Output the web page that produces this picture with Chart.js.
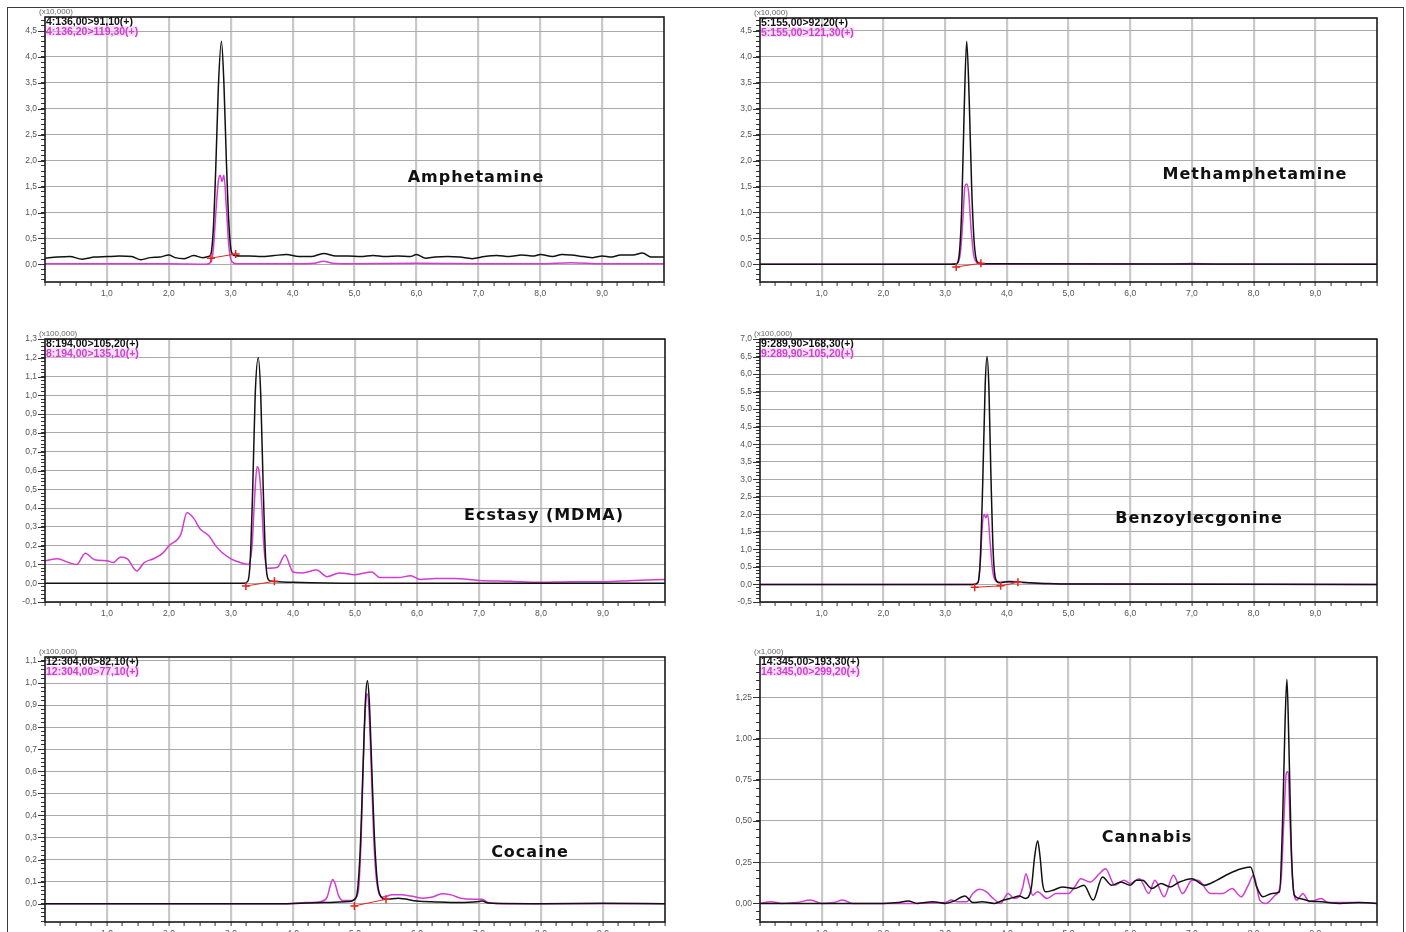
<!DOCTYPE html>
<html>
<head>
<title>MRM chromatograms</title>
<script src="https://cdn.jsdelivr.net/npm/chart.js"></script>
<style>
  body {
    margin: 0;
    width: 1406px;
    height: 932px;
    overflow: hidden;
    position: relative;
    background: #fff;
    font-family: "Liberation Sans", Arial, sans-serif;
  }
  .frame {
    position: absolute;
    left: 7px;
    top: 7px;
    width: 1395px;
    height: 940px;
    border: 1.5px solid #3a3a3a;
  }
  canvas { position: absolute; }
  .factor {
    position: absolute;
    font-size: 8px;
    line-height: 9px;
    color: #666;
  }
  .trace {
    position: absolute;
    font-size: 10.5px;
    font-weight: bold;
    line-height: 10px;
    white-space: nowrap;
  }
  .t1 { color: #111; }
  .t2 { color: #d23cd2; background: rgba(240, 190, 240, 0.45); }
  .drug {
    position: absolute;
    transform: translate(-50%, -50%);
    font-family: "DejaVu Sans", sans-serif;
    font-weight: bold;
    font-size: 16px;
    letter-spacing: 1px;
    color: #111;
    white-space: nowrap;
  }
</style>
</head>
<body>
<div class="frame"></div>

<script>
// x axis (retention time, min)
const xLabels = ['1,0', '2,0', '3,0', '4,0', '5,0', '6,0', '7,0', '8,0', '9,0'];

// Amphetamine (x10,000)
const amphYLabels = ['0,0', '0,5', '1,0', '1,5', '2,0', '2,5', '3,0', '3,5', '4,0', '4,5'];
const amphBlackT = [0, 0.2, 0.4, 0.6, 0.8, 1.0, 1.2, 1.4, 1.55, 1.7, 1.85, 2.0, 2.1, 2.25, 2.4, 2.55, 2.64, 2.68, 2.72, 2.76, 2.80, 2.85, 2.89, 2.93, 2.97, 3.01, 3.06, 3.15, 3.3, 3.5, 3.7, 3.9, 4.1, 4.3, 4.5, 4.7, 4.9, 5.1, 5.3, 5.5, 5.7, 5.9, 6.0, 6.15, 6.3, 6.5, 6.7, 6.9, 7.1, 7.3, 7.5, 7.7, 7.9, 8.0, 8.2, 8.35, 8.5, 8.7, 8.85, 9.0, 9.15, 9.3, 9.5, 9.65, 9.8, 10];
const amphBlackV = [0.12, 0.14, 0.15, 0.10, 0.14, 0.15, 0.16, 0.15, 0.09, 0.13, 0.14, 0.18, 0.13, 0.11, 0.17, 0.13, 0.15, 0.2, 0.7, 1.9, 3.4, 4.3, 3.5, 2.0, 0.8, 0.25, 0.17, 0.16, 0.16, 0.15, 0.17, 0.19, 0.15, 0.15, 0.21, 0.16, 0.16, 0.15, 0.17, 0.15, 0.16, 0.15, 0.19, 0.12, 0.14, 0.15, 0.14, 0.11, 0.15, 0.17, 0.15, 0.18, 0.16, 0.19, 0.15, 0.19, 0.18, 0.15, 0.13, 0.16, 0.14, 0.18, 0.18, 0.22, 0.14, 0.14];
const amphPinkT = [0, 1.0, 2.0, 2.6, 2.68, 2.72, 2.76, 2.80, 2.83, 2.86, 2.89, 2.93, 2.97, 3.02, 3.1, 4.0, 4.35, 4.5, 4.65, 5.0, 6.0, 7.0, 8.0, 8.5, 9.0, 10];
const amphPinkV = [0.01, 0.01, 0.01, 0.0, 0.05, 0.3, 1.0, 1.6, 1.72, 1.6, 1.72, 1.1, 0.35, 0.05, 0.01, 0.01, 0.02, 0.06, 0.02, 0.01, 0.02, 0.01, 0.01, 0.03, 0.01, 0.01];
const amphRedT = [2.68, 3.08];
const amphRedV = [0.12, 0.2];

// Methamphetamine (x10,000)
const methYLabels = ['0,0', '0,5', '1,0', '1,5', '2,0', '2,5', '3,0', '3,5', '4,0', '4,5'];
const methBlackT = [0, 3.1, 3.18, 3.23, 3.27, 3.31, 3.35, 3.39, 3.43, 3.47, 3.52, 3.6, 10];
const methBlackV = [0, 0, 0.01, 0.2, 1.1, 3.0, 4.3, 3.2, 1.5, 0.45, 0.05, 0.01, 0];
const methPinkT = [0, 3.1, 3.2, 3.25, 3.29, 3.32, 3.35, 3.38, 3.42, 3.46, 3.52, 3.6, 6.5, 7.0, 7.5, 10];
const methPinkV = [0, 0, 0.02, 0.25, 0.9, 1.5, 1.55, 1.4, 0.7, 0.2, 0.03, 0, 0, 0.015, 0, 0];
const methRedT = [3.18, 3.58];
const methRedV = [-0.05, 0.02];

// Ecstasy (MDMA) (x100,000)
const ecsYLabels = ['-0,1', '0,0', '0,1', '0,2', '0,3', '0,4', '0,5', '0,6', '0,7', '0,8', '0,9', '1,0', '1,1', '1,2', '1,3'];
const ecsBlackT = [0, 3.2, 3.27, 3.31, 3.35, 3.39, 3.44, 3.48, 3.52, 3.56, 3.6, 3.65, 4.0, 5.0, 10];
const ecsBlackV = [0, 0, 0.01, 0.12, 0.5, 1.0, 1.2, 1.0, 0.5, 0.12, 0.02, 0.01, 0.005, 0, 0];
const ecsPinkT = [0, 0.2, 0.38, 0.51, 0.65, 0.8, 1.0, 1.1, 1.22, 1.33, 1.48, 1.6, 1.75, 1.9, 2.0, 2.19, 2.29, 2.4, 2.5, 2.65, 2.75, 2.85, 3.0, 3.15, 3.28, 3.34, 3.38, 3.42, 3.45, 3.49, 3.53, 3.58, 3.75, 3.87, 4.0, 4.15, 4.38, 4.55, 4.75, 5.0, 5.27, 5.4, 5.7, 5.9, 6.05, 6.3, 6.6, 7.0, 7.5, 8.0, 8.5, 9.0, 9.5, 10];
const ecsPinkV = [0.12, 0.13, 0.11, 0.10, 0.16, 0.125, 0.12, 0.11, 0.14, 0.13, 0.065, 0.11, 0.13, 0.16, 0.2, 0.26, 0.375, 0.345, 0.29, 0.25, 0.2, 0.165, 0.13, 0.11, 0.1, 0.2, 0.45, 0.62, 0.6, 0.45, 0.2, 0.08, 0.085, 0.15, 0.06, 0.055, 0.07, 0.035, 0.055, 0.045, 0.06, 0.03, 0.03, 0.04, 0.02, 0.025, 0.025, 0.015, 0.01, 0.005, 0.008, 0.008, 0.015, 0.02];
const ecsRedT = [3.24, 3.7];
const ecsRedV = [-0.015, 0.01];

// Benzoylecgonine (x100,000)
const bzeYLabels = ['-0,5', '0,0', '0,5', '1,0', '1,5', '2,0', '2,5', '3,0', '3,5', '4,0', '4,5', '5,0', '5,5', '6,0', '6,5', '7,0'];
const bzeBlackT = [0, 3.45, 3.53, 3.57, 3.61, 3.65, 3.68, 3.71, 3.74, 3.78, 3.82, 3.88, 4.0, 4.2, 4.6, 5.0, 10];
const bzeBlackV = [0, 0, 0.05, 0.7, 2.9, 5.7, 6.5, 5.6, 3.3, 0.9, 0.15, 0.05, 0.08, 0.06, 0.03, 0.01, 0];
const bzePinkT = [0, 3.45, 3.53, 3.57, 3.6, 3.63, 3.66, 3.69, 3.73, 3.77, 3.82, 3.9, 4.05, 4.2, 4.5, 5.0, 10];
const bzePinkV = [0, 0, 0.05, 0.6, 1.6, 2.0, 1.9, 2.0, 1.2, 0.4, 0.1, 0.06, 0.09, 0.07, 0.03, 0.02, 0];
const bzeRedT = [3.48, 3.9, 4.18];
const bzeRedV = [-0.08, -0.04, 0.06];

// Cocaine (x100,000)
const cocYLabels = ['0,0', '0,1', '0,2', '0,3', '0,4', '0,5', '0,6', '0,7', '0,8', '0,9', '1,0', '1,1'];
const cocBlackT = [0, 3.9, 4.5, 4.9, 5.02, 5.08, 5.13, 5.17, 5.2, 5.23, 5.27, 5.31, 5.36, 5.42, 5.5, 5.7, 6.0, 6.3, 6.7, 7.0, 7.05, 7.15, 8.0, 9.0, 10];
const cocBlackV = [0, 0, 0.005, 0.01, 0.03, 0.22, 0.62, 0.93, 1.01, 0.92, 0.62, 0.32, 0.1, 0.03, 0.02, 0.025, 0.012, 0.008, 0.005, 0.01, 0.012, 0.003, 0, 0.002, 0];
const cocPinkT = [0, 3.9, 4.2, 4.45, 4.55, 4.6, 4.64, 4.68, 4.73, 4.8, 4.95, 5.05, 5.1, 5.14, 5.17, 5.2, 5.23, 5.27, 5.31, 5.36, 5.45, 5.6, 5.75, 5.9, 6.1, 6.25, 6.4, 6.55, 6.7, 6.9, 7.05, 7.15, 7.3, 8.0, 9.0, 10];
const cocPinkV = [0, 0, 0.005, 0.01, 0.03, 0.08, 0.11, 0.09, 0.04, 0.015, 0.015, 0.05, 0.3, 0.7, 0.9, 0.95, 0.85, 0.55, 0.25, 0.08, 0.03, 0.04, 0.04, 0.035, 0.025, 0.03, 0.045, 0.04, 0.025, 0.02, 0.02, 0.005, 0, 0, 0, 0];
const cocRedT = [4.99, 5.5];
const cocRedV = [-0.01, 0.02];

// Cannabis (x1,000)
const canYLabels = ['0,00', '0,25', '0,50', '0,75', '1,00', '1,25'];
const canBlackT = [0, 0.5, 1.0, 1.5, 2.0, 2.25, 2.4, 2.55, 2.8, 3.0, 3.15, 3.32, 3.45, 3.6, 3.8, 3.95, 4.1, 4.2, 4.3, 4.40, 4.45, 4.5, 4.54, 4.58, 4.63, 4.75, 4.9, 5.1, 5.25, 5.4, 5.55, 5.7, 5.85, 6.0, 6.1, 6.2, 6.35, 6.5, 6.65, 6.8, 7.0, 7.2, 7.4, 7.6, 7.8, 7.95, 8.05, 8.15, 8.3, 8.42, 8.47, 8.51, 8.54, 8.57, 8.61, 8.66, 8.75, 8.9, 9.1, 9.4, 9.7, 10];
const canBlackV = [0, 0, 0, 0, 0, 0.005, 0.015, 0, 0.01, 0, 0.015, 0.045, 0.005, 0.01, 0, 0.02, 0.035, 0.045, 0.03, 0.1, 0.28, 0.38, 0.28, 0.12, 0.07, 0.08, 0.1, 0.09, 0.11, 0.02, 0.16, 0.11, 0.13, 0.11, 0.14, 0.14, 0.09, 0.12, 0.1, 0.13, 0.15, 0.11, 0.14, 0.18, 0.21, 0.22, 0.1, 0.04, 0.06, 0.07, 0.5, 1.1, 1.36, 1.0, 0.35, 0.05, 0.03, 0.015, 0.01, 0, 0.005, 0];
const canPinkT = [0, 0.18, 0.35, 0.6, 0.82, 1.0, 1.2, 1.34, 1.5, 2.0, 2.5, 3.0, 3.1, 3.2, 3.35, 3.45, 3.56, 3.67, 3.78, 3.9, 4.02, 4.12, 4.2, 4.26, 4.31, 4.36, 4.42, 4.5, 4.65, 4.8, 5.0, 5.1, 5.2, 5.35, 5.5, 5.6, 5.75, 5.9, 6.0, 6.15, 6.3, 6.4, 6.55, 6.7, 6.85, 7.0, 7.1, 7.3, 7.5, 7.65, 7.8, 7.9, 8.0, 8.1, 8.2, 8.35, 8.44, 8.49, 8.53, 8.56, 8.59, 8.63, 8.7, 8.8, 8.9, 9.1, 9.2, 9.6, 10];
const canPinkV = [0, 0.01, 0, 0.005, 0.02, 0, 0.005, 0.02, 0, 0, 0, 0.005, 0.02, 0.01, 0.01, 0.06, 0.085, 0.07, 0.03, 0, 0.06, 0.03, 0.04, 0.1, 0.18, 0.12, 0.05, 0.07, 0.03, 0.06, 0.06, 0.1, 0.15, 0.13, 0.18, 0.21, 0.11, 0.14, 0.12, 0.15, 0.06, 0.14, 0.04, 0.17, 0.06, 0.14, 0.14, 0.06, 0.06, 0.09, 0.04, 0.1, 0.17, 0.02, 0, 0.05, 0.12, 0.5, 0.79, 0.8, 0.5, 0.15, 0.02, 0.06, 0.01, 0.03, 0.005, 0.005, 0];

const BLACK = '#111111';
const PINK = '#d23cd2';
const RED = '#e3261f';

function num(s) { return parseFloat(s.replace(',', '.')); }
function near(v, list) { return list.findIndex(m => Math.abs(m - v) < 1e-6); }

function stepTicks(min, max, step) {
    const out = [];
    const start = Math.ceil(min / step - 1e-9) * step;
    for (let v = start; v <= max + 1e-9; v += step) {
        out.push({ value: Math.round(v * 10000) / 10000 });
    }
    return out;
}

function pts(t, v) { return t.map((x, i) => ({ x: x, y: v[i] })); }

// plot frame + longer marks for the labelled y ticks
const framePlugin = {
    id: 'frame',
    afterDraw(chart) {
        const a = chart.chartArea;
        const ctx = chart.ctx;
        const y = chart.scales.y;
        ctx.save();
        ctx.strokeStyle = '#333';
        ctx.lineWidth = 1;
        (chart.$yMajor || []).forEach(v => {
            const py = Math.round(y.getPixelForValue(v)) + 0.5;
            ctx.beginPath();
            ctx.moveTo(a.left - 7, py);
            ctx.lineTo(a.left, py);
            ctx.stroke();
        });
        ctx.strokeStyle = '#1a1a1a';
        ctx.lineWidth = 1.6;
        ctx.strokeRect(a.left, a.top, a.right - a.left, a.bottom - a.top);
        ctx.restore();
    }
};

function addText(cls, text, left, top) {
    const d = document.createElement('div');
    d.className = cls;
    d.textContent = text;
    d.style.left = left + 'px';
    d.style.top = top + 'px';
    document.body.appendChild(d);
}

function makePanel(p) {
    const yW = 45, padT = 10, padR = 6, xH = 24;
    const c = document.createElement('canvas');
    c.width = p.area.r - p.area.l + yW + padR;
    c.height = p.area.b - p.area.t + padT + xH;
    c.style.left = (p.area.l - yW) + 'px';
    c.style.top = (p.area.t - padT) + 'px';
    document.body.appendChild(c);

    const xMajor = xLabels.map(num);
    const yMajor = p.yLabels.map(num);

    const datasets = [];
    if (p.red) {
        datasets.push({
            data: pts(p.red[0], p.red[1]),
            borderColor: RED,
            borderWidth: 1,
            pointStyle: 'cross',
            pointRadius: 4,
            pointBorderWidth: 1.5,
            pointBorderColor: RED,
            tension: 0
        });
    }
    datasets.push({
        data: pts(p.black[0], p.black[1]),
        borderColor: BLACK,
        borderWidth: 1.5,
        pointRadius: 0,
        cubicInterpolationMode: 'monotone'
    });
    datasets.push({
        data: pts(p.pink[0], p.pink[1]),
        borderColor: PINK,
        borderWidth: 1.5,
        pointRadius: 0,
        cubicInterpolationMode: 'monotone'
    });

    const chart = new Chart(c, {
        type: 'line',
        data: { datasets: datasets },
        options: {
            responsive: false,
            animation: false,
            devicePixelRatio: 1,
            layout: { padding: { left: 0, top: padT, right: padR, bottom: 0 } },
            plugins: { legend: { display: false }, tooltip: { enabled: false } },
            scales: {
                x: {
                    type: 'linear',
                    min: 0,
                    max: 10,
                    afterBuildTicks: s => { s.ticks = stepTicks(0, 10, 0.25); },
                    afterFit: s => { s.height = xH; },
                    border: { display: false },
                    grid: {
                        color: ctx => (ctx.tick && near(ctx.tick.value, xMajor) >= 0) ? '#c9c9c9' : 'rgba(0,0,0,0)',
                        lineWidth: 2.2,
                        tickColor: '#333',
                        tickWidth: 1,
                        tickLength: 4
                    },
                    ticks: {
                        autoSkip: false,
                        maxRotation: 0,
                        padding: 3,
                        color: '#555',
                        font: { size: 8.5, family: 'Liberation Sans' },
                        callback: v => { const i = near(v, xMajor); return i >= 0 ? xLabels[i] : ''; }
                    }
                },
                y: {
                    type: 'linear',
                    min: p.yMin,
                    max: p.yMax,
                    afterBuildTicks: s => { s.ticks = stepTicks(p.yMin, p.yMax, p.yMinor); },
                    afterFit: s => { s.width = yW; },
                    border: { display: false },
                    grid: {
                        color: ctx => (ctx.tick && near(ctx.tick.value, yMajor) >= 0) ? '#ababab' : 'rgba(0,0,0,0)',
                        lineWidth: 1,
                        tickColor: '#333',
                        tickWidth: 1,
                        tickLength: 4
                    },
                    ticks: {
                        autoSkip: false,
                        padding: 4,
                        color: '#555',
                        font: { size: 8.5, family: 'Liberation Sans' },
                        callback: v => { const i = near(v, yMajor); return i >= 0 ? p.yLabels[i] : ''; }
                    }
                }
            }
        },
        plugins: [framePlugin]
    });
    chart.$yMajor = yMajor;
    chart.draw();

    addText('factor', p.factor, p.area.l - 6, p.area.t - 10);
    addText('trace t1', p.names[0], p.area.l + 1, p.area.t - 1);
    addText('trace t2', p.names[1], p.area.l + 1, p.area.t + 8.5);
    addText('drug', p.drug, p.drugPos[0], p.drugPos[1]);
}

makePanel({
    area: { l: 45, r: 664, t: 17, b: 282 },
    yMin: -0.34, yMax: 4.77, yMinor: 0.1, yLabels: amphYLabels,
    black: [amphBlackT, amphBlackV], pink: [amphPinkT, amphPinkV], red: [amphRedT, amphRedV],
    factor: '(x10,000)', names: ['4:136,00>91,10(+)', '4:136,20>119,30(+)'],
    drug: 'Amphetamine', drugPos: [476, 176]
});
makePanel({
    area: { l: 760, r: 1377, t: 18, b: 282 },
    yMin: -0.34, yMax: 4.75, yMinor: 0.1, yLabels: methYLabels,
    black: [methBlackT, methBlackV], pink: [methPinkT, methPinkV], red: [methRedT, methRedV],
    factor: '(x10,000)', names: ['5:155,00>92,20(+)', '5:155,00>121,30(+)'],
    drug: 'Methamphetamine', drugPos: [1255, 173]
});
makePanel({
    area: { l: 45, r: 665, t: 339, b: 602 },
    yMin: -0.1, yMax: 1.3, yMinor: 0.02, yLabels: ecsYLabels,
    black: [ecsBlackT, ecsBlackV], pink: [ecsPinkT, ecsPinkV], red: [ecsRedT, ecsRedV],
    factor: '(x100,000)', names: ['8:194,00>105,20(+)', '8:194,00>135,10(+)'],
    drug: 'Ecstasy (MDMA)', drugPos: [544, 514]
});
makePanel({
    area: { l: 760, r: 1377, t: 339, b: 602 },
    yMin: -0.5, yMax: 7.0, yMinor: 0.1, yLabels: bzeYLabels,
    black: [bzeBlackT, bzeBlackV], pink: [bzePinkT, bzePinkV], red: [bzeRedT, bzeRedV],
    factor: '(x100,000)', names: ['9:289,90>168,30(+)', '9:289,90>105,20(+)'],
    drug: 'Benzoylecgonine', drugPos: [1199, 517]
});
makePanel({
    area: { l: 45, r: 665, t: 657, b: 922 },
    yMin: -0.083, yMax: 1.118, yMinor: 0.02, yLabels: cocYLabels,
    black: [cocBlackT, cocBlackV], pink: [cocPinkT, cocPinkV], red: [cocRedT, cocRedV],
    factor: '(x100,000)', names: ['12:304,00>82,10(+)', '12:304,00>77,10(+)'],
    drug: 'Cocaine', drugPos: [530, 851]
});
makePanel({
    area: { l: 760, r: 1377, t: 657, b: 922 },
    yMin: -0.113, yMax: 1.495, yMinor: 0.05, yLabels: canYLabels,
    black: [canBlackT, canBlackV], pink: [canPinkT, canPinkV], red: null,
    factor: '(x1,000)', names: ['14:345,00>193,30(+)', '14:345,00>299,20(+)'],
    drug: 'Cannabis', drugPos: [1147, 836]
});
</script>
</body>
</html>
